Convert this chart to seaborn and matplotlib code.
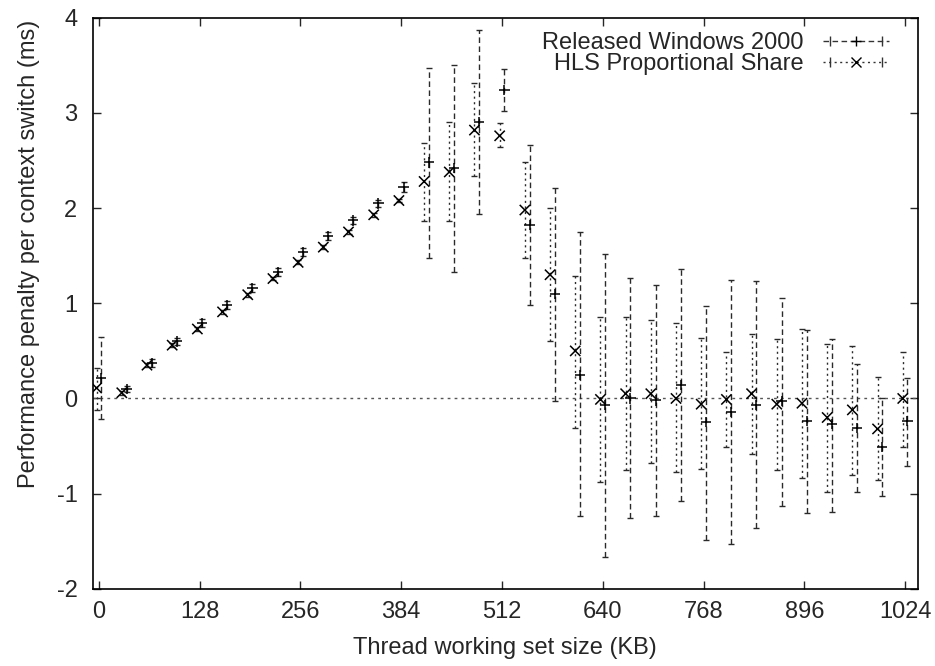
import numpy as np
import pandas as pd
import matplotlib
matplotlib.use("Agg")
import matplotlib.pyplot as plt
import seaborn as sns
from matplotlib.lines import Line2D
from matplotlib.legend_handler import HandlerLine2D, HandlerTuple

# thread working set sizes (KB)
sizes = [0, 32, 64, 96, 128, 160, 192, 224, 256, 288, 320, 352, 384, 416, 448, 480, 512,
         544, 576, 608, 640, 672, 704, 736, 768, 800, 832, 864, 896, 928, 960, 992, 1024]

# Released Windows 2000: mean, low, high
win_mean = [0.21, 0.10, 0.37, 0.60, 0.79, 0.98, 1.16, 1.33, 1.54, 1.71, 1.87, 2.05, 2.22, 2.48, 2.42, 2.90, 3.24,
            1.82, 1.10, 0.25, -0.07, 0.00, -0.02, 0.14, -0.25, -0.14, -0.07, -0.03, -0.24, -0.27, -0.31, -0.51, -0.24]
win_low = [-0.22, 0.07, 0.33, 0.56, 0.75, 0.94, 1.12, 1.29, 1.50, 1.67, 1.83, 2.01, 2.17, 1.48, 1.33, 1.94, 3.02,
           0.98, -0.03, -1.24, -1.67, -1.26, -1.23, -1.08, -1.49, -1.53, -1.36, -1.13, -1.20, -1.19, -0.98, -1.02, -0.71]
win_high = [0.65, 0.13, 0.41, 0.64, 0.83, 1.02, 1.20, 1.37, 1.58, 1.75, 1.91, 2.09, 2.27, 3.47, 3.50, 3.87, 3.46,
            2.66, 2.21, 1.75, 1.52, 1.27, 1.19, 1.36, 0.97, 1.25, 1.23, 1.06, 0.72, 0.62, 0.36, 0.01, 0.22]

# HLS Proportional Share: mean, low, high
hls_mean = [0.11, 0.06, 0.35, 0.56, 0.73, 0.91, 1.09, 1.26, 1.43, 1.59, 1.75, 1.93, 2.08, 2.28, 2.38, 2.82, 2.76,
            1.98, 1.30, 0.50, -0.01, 0.05, 0.05, 0.00, -0.06, -0.01, 0.05, -0.06, -0.05, -0.20, -0.12, -0.32, 0.00]
hls_low = [-0.12, 0.04, 0.33, 0.54, 0.71, 0.89, 1.07, 1.24, 1.41, 1.57, 1.73, 1.91, 2.06, 1.86, 1.86, 2.34, 2.64,
           1.48, 0.60, -0.31, -0.88, -0.75, -0.68, -0.77, -0.74, -0.51, -0.58, -0.75, -0.84, -0.98, -0.80, -0.86, -0.51]
hls_high = [0.32, 0.08, 0.37, 0.58, 0.75, 0.93, 1.11, 1.28, 1.45, 1.61, 1.77, 1.95, 2.10, 2.68, 2.90, 3.31, 2.89,
            2.48, 2.00, 1.29, 0.86, 0.86, 0.82, 0.79, 0.64, 0.49, 0.68, 0.62, 0.73, 0.57, 0.55, 0.23, 0.49]

labels = ["Released Windows 2000", "HLS Proportional Share"]
x_ticks = [0, 128, 256, 384, 512, 640, 768, 896, 1024]
y_ticks = [-2, -1, 0, 1, 2, 3, 4]

sns.set_style("ticks")
plt.rcParams['font.family'] = ['Liberation Sans', 'DejaVu Sans']
plt.rcParams['axes.unicode_minus'] = False
FS = 17

win = pd.DataFrame({'size': sizes, 'mean': win_mean, 'low': win_low, 'high': win_high})
win['pos'] = win['size'] + 3
win['series'] = labels[0]
hls = pd.DataFrame({'size': sizes, 'mean': hls_mean, 'low': hls_low, 'high': hls_high})
hls['pos'] = hls['size'] - 3
hls['series'] = labels[1]
df = pd.concat([win, hls], ignore_index=True)

fig = plt.figure(figsize=(9.35, 6.66), dpi=100)
ax = fig.add_axes([0.0991, 0.1159, 0.8824, 0.8574])

# zero line
ax.axhline(0, color='#555555', lw=1.0, ls=(0, (2, 3)), zorder=1)

styles = {labels[0]: (0, (4, 2.5)), labels[1]: (0, (1.5, 2.5))}
for name, d in [(labels[0], win), (labels[1], hls)]:
    yerr = np.vstack([d['mean'] - d['low'], d['high'] - d['mean']])
    eb = ax.errorbar(d['pos'], d['mean'], yerr=yerr, fmt='none', ecolor='#2a2a2a',
                     elinewidth=1.0, capsize=2.5, capthick=1.0, zorder=2)
    for lc in eb[2]:
        lc.set_linestyle(styles[name])

sns.scatterplot(data=df, x='pos', y='mean', style='series',
                markers={labels[0]: '+', labels[1]: 'x'}, color='black',
                s=55, linewidth=1.1, legend=False, ax=ax, zorder=3)

ax.set_xlim(-8, 1040)
ax.set_ylim(-2, 4)
ax.set_xticks(x_ticks)
ax.set_yticks(y_ticks)
ax.tick_params(direction='in', length=6, width=1, top=True, right=True, labelsize=FS)
ax.tick_params(axis='y', pad=11)
ax.tick_params(axis='x', pad=9)
for sp in ax.spines.values():
    sp.set_linewidth(1.2)
    sp.set_color('black')
ax.set_xlabel("Thread working set size (KB)", fontsize=FS, labelpad=10)
ax.set_ylabel("Performance penalty per context switch (ms)", fontsize=FS)
ax.yaxis.set_label_coords(-0.064, 0.586)

# legend in gnuplot style: text then line with marker and end caps
handles = []
hmap = {}
for name, mk in [(labels[0], '+'), (labels[1], 'x')]:
    main = Line2D([], [], color='#333333', lw=1.0, ls=styles[name], marker=mk,
                  markersize=7, markeredgecolor='black', markeredgewidth=1.0)
    caps = Line2D([], [], ls='none', marker='|', markersize=7, color='#333333', markeredgewidth=1.0)
    hmap[main] = HandlerLine2D(numpoints=1)
    hmap[caps] = HandlerLine2D(numpoints=2)
    handles.append((main, caps))
hmap[tuple] = HandlerTuple(ndivide=1)
ax.legend(handles, labels, handler_map=hmap, loc='upper right',
          bbox_to_anchor=(889 / 935, 1 - 32 / 666), bbox_transform=fig.transFigure,
          frameon=False, markerfirst=False, fontsize=FS, handlelength=2.8,
          handletextpad=0.8, labelspacing=-0.05, borderpad=0, borderaxespad=0)

plt.savefig("out.png", dpi=100)
